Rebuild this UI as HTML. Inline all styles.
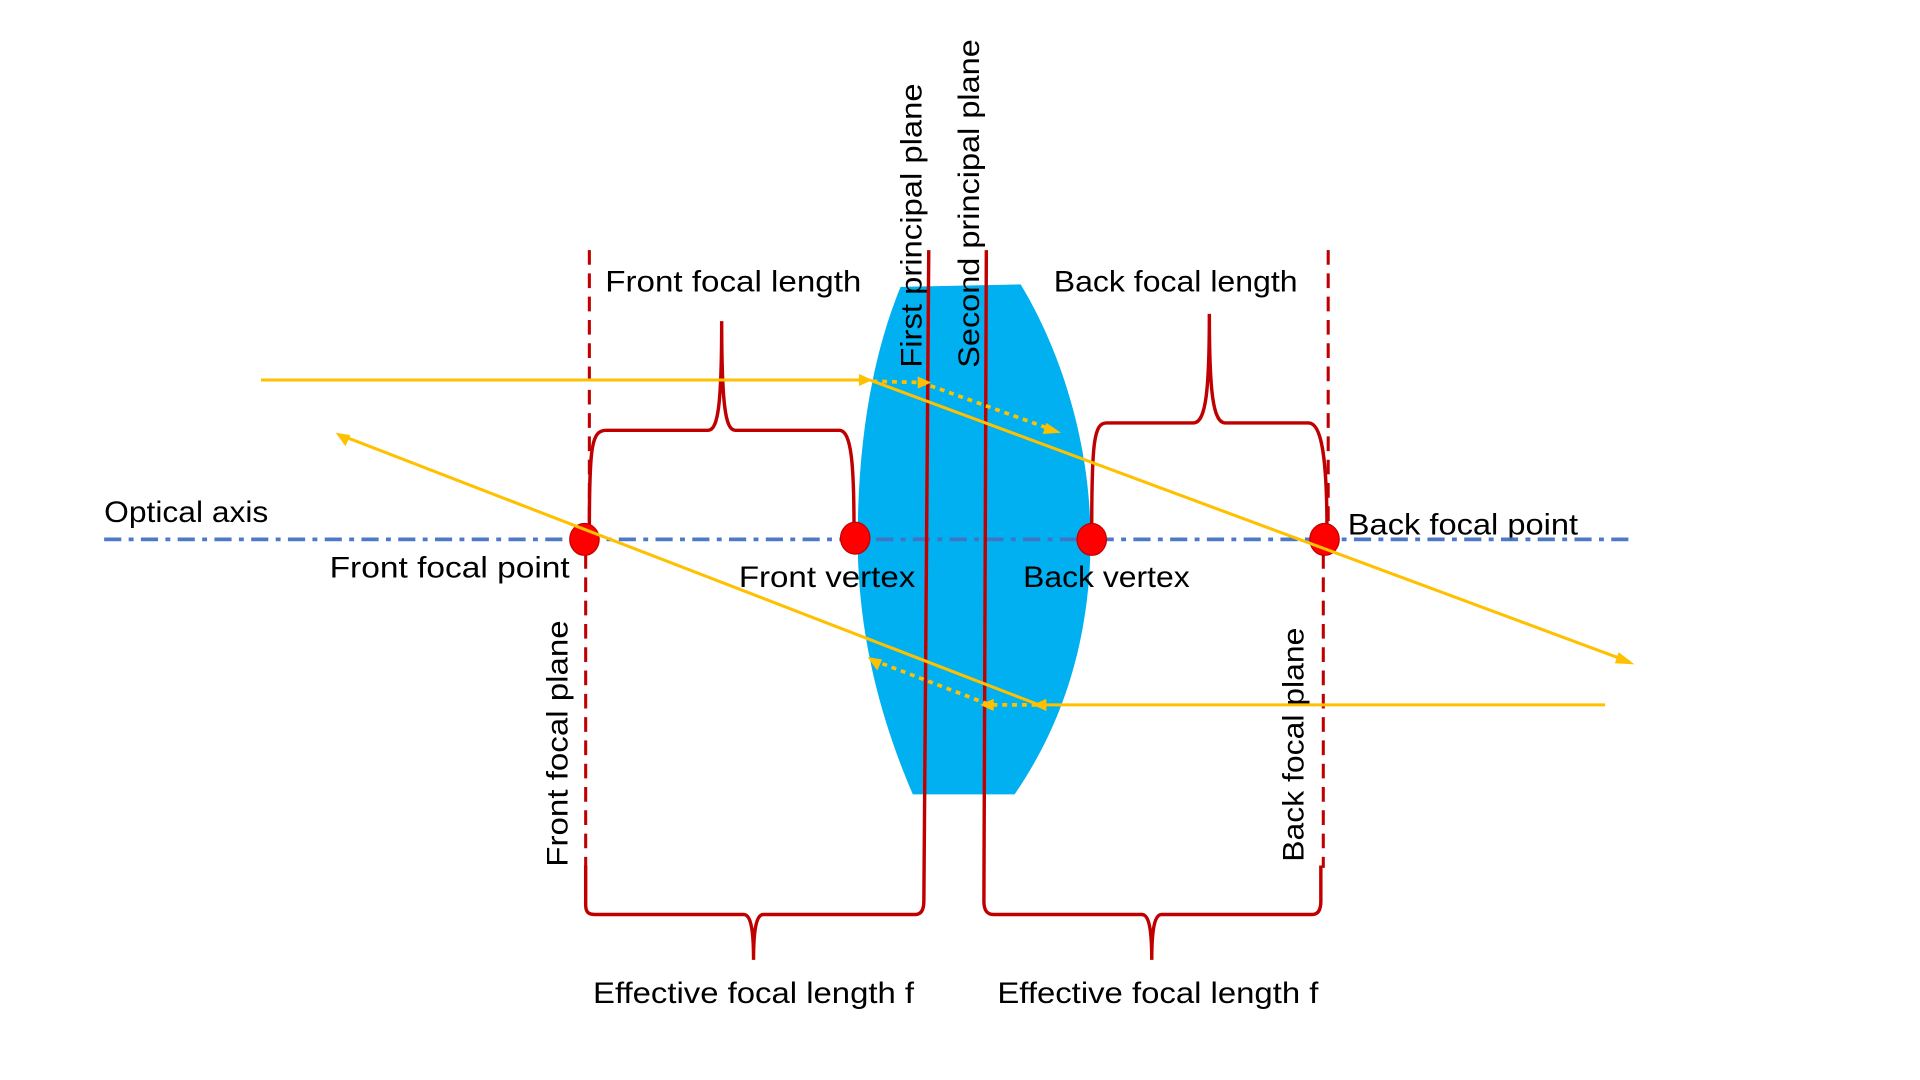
<!DOCTYPE html>
<html><head><meta charset="utf-8"><style>html,body{margin:0;padding:0;background:#fff}svg{display:block}</style></head>
<body>
<svg width="1920" height="1080" viewBox="0 0 1567 881" preserveAspectRatio="none" xmlns="http://www.w3.org/2000/svg" font-family="Liberation Sans, sans-serif" font-size="24">
<rect width="1567" height="881" fill="#fff"/>
<!-- lens -->
<path d="M735,234 L833,232 C865,285 890,360 890,440 C890,520 868,590 828,648 L745,648 C720,590 700,520 700,440 C700,360 712,290 735,234 Z" fill="#00b0f0"/>
<!-- rotated labels -->
<g fill="#000">
<text transform="translate(752,300) rotate(-90)" textLength="232" lengthAdjust="spacingAndGlyphs">First principal plane</text>
<text transform="translate(799,300) rotate(-90)" textLength="268" lengthAdjust="spacingAndGlyphs">Second principal plane</text>
<text transform="translate(463,707) rotate(-90)" textLength="201" lengthAdjust="spacingAndGlyphs">Front focal plane</text>
<text transform="translate(1064,703) rotate(-90)" textLength="191" lengthAdjust="spacingAndGlyphs">Back focal plane</text>
<text x="494" y="238" textLength="209" lengthAdjust="spacingAndGlyphs">Front focal length</text>
<text x="860" y="238" textLength="199" lengthAdjust="spacingAndGlyphs">Back focal length</text>
<text x="85" y="426" textLength="134" lengthAdjust="spacingAndGlyphs">Optical axis</text>
<text x="269" y="471" textLength="196" lengthAdjust="spacingAndGlyphs">Front focal point</text>
<text x="603" y="479" textLength="144" lengthAdjust="spacingAndGlyphs">Front vertex</text>
<text x="835" y="479" textLength="136" lengthAdjust="spacingAndGlyphs">Back vertex</text>
<text x="1100" y="436" textLength="188" lengthAdjust="spacingAndGlyphs">Back focal point</text>
<text x="484" y="818" textLength="262" lengthAdjust="spacingAndGlyphs">Effective focal length f</text>
<text x="814" y="818" textLength="262" lengthAdjust="spacingAndGlyphs">Effective focal length f</text>
</g>
<!-- optical axis -->
<line x1="85" y1="440" x2="1335" y2="440" stroke="#4472c4" stroke-width="3" stroke-dasharray="14,6,4,6" opacity="0.95"/>
<!-- dashed focal planes -->
<g stroke="#c00000" stroke-width="2.5" fill="none" stroke-dasharray="12,7">
<line x1="481" y1="204" x2="481" y2="430"/>
<line x1="478" y1="452" x2="478" y2="708"/>
<line x1="1084" y1="204" x2="1084" y2="430"/>
<line x1="1080" y1="452" x2="1080" y2="708"/>
</g>
<!-- brackets & principal planes -->
<g stroke="#c00000" stroke-width="2.8" fill="none">
<path d="M481,432 C481,362 483,351 495,351 L578,351 C586,351 589,330 589,262 C589,330 592,351 600,351 L685,351 C695,351 697,380 697,432"/>
<path d="M891,432 C891,360 893,345 903,345 L974,345 C984,345 987,320 987,256 C987,320 990,345 1000,345 L1068,345 C1078,345 1083,370 1083,432"/>
<path d="M478,706 L478,738 C478,744 480,746 486,746 L607,746 C613,746 615,760 615,783 C615,760 617,746 623,746 L747,746 C752,746 754,742 754,735 L758,204"/>
<path d="M805,204 L803,735 C803,742 805,746 811,746 L932,746 C938,746 940,760 940,783 C940,760 942,746 948,746 L1071,746 C1076,746 1078,742 1078,735 L1078,706"/>
</g>
<!-- dots -->
<g fill="#ff0000" stroke="#c00000" stroke-width="1">
<ellipse cx="477" cy="440" rx="12" ry="13"/>
<ellipse cx="698" cy="439" rx="12" ry="13"/>
<ellipse cx="891" cy="440" rx="12" ry="13"/>
<ellipse cx="1081" cy="440" rx="12" ry="13"/>
</g>
<!-- rays -->
<g stroke="#ffc000" stroke-width="2.5" fill="none">
<line x1="213" y1="310" x2="706" y2="310"/>
<line x1="710" y1="310" x2="1330" y2="540"/>
<line x1="1310" y1="575" x2="852" y2="575"/>
<line x1="848" y1="575" x2="278" y2="355"/>
<path d="M712,311 L752,312 L860,351" stroke-dasharray="4,4" stroke-width="3"/>
<path d="M846,575 L808,575 L714,539" stroke-dasharray="4,4" stroke-width="3"/>
</g>
<g fill="#ffc000">
<polygon points="712,310 701,305 701,315"/>
<polygon points="760,312 749,307 749,317"/>
<polygon points="866,353 854,345 851,354"/>
<polygon points="1334,542 1321,532 1318,541"/>
<polygon points="843,575 854,570 854,580"/>
<polygon points="800,575 811,570 811,580"/>
<polygon points="708,536 720,538 716,547"/>
<polygon points="274,353 286,355 282,364"/>
</g>
</svg>
</body></html>
